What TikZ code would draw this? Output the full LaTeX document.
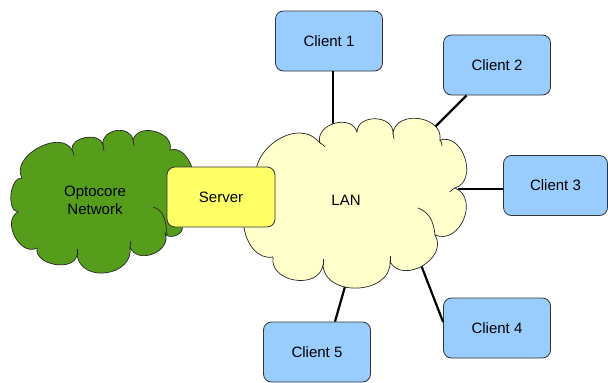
\documentclass[tikz,border=0pt]{standalone}
\usepackage{fontspec}
\setmainfont{Liberation Sans}
\definecolor{clientblue}{RGB}{153,204,255}
\definecolor{serveryellow}{RGB}{255,255,102}
\definecolor{lanfill}{RGB}{255,255,204}
\definecolor{optogreen}{RGB}{87,157,28}
\begin{document}
\begin{tikzpicture}[x=1pt,y=-1pt,
  box/.style={draw=black!80, line width=0.8pt, rounded corners=8pt,
    minimum width=107pt, minimum height=60pt, inner sep=0pt,
    font=\fontsize{15}{18}\selectfont},
  client/.style={box, fill=clientblue},
  link/.style={line width=2.2pt, black},
  puff/.style={bend left=90, looseness=#1},
  puff/.default=1.3,
  cloudline/.style={draw=black!85, line width=0.7pt},
  tick/.style={draw=black!85, line width=0.7pt},
  cloudtext/.style={font=\fontsize{15}{18}\selectfont, align=center, inner sep=0pt}]
\useasboundingbox (0,0) rectangle (608,383);

% nodes
\node[client] (c1) at (329,41) {Client 1};
\node[client] (c2) at (497,65) {Client 2};
\node[client, minimum width=104pt] (c3) at (555.5,185.5) {Client 3};
\node[client] (c4) at (497,328) {Client 4};
\node[client] (c5) at (317,352) {Client 5};

% connector ends on the LAN cloud
\coordinate (l1) at (333,132);
\coordinate (l2) at (428,134);
\coordinate (l3) at (458,189);
\coordinate (l4) at (416,252);
\coordinate (l5) at (348,276);

\draw[link] (c1.south -| l1) -- (l1);
\draw[link] (c2) -- (l2);
\draw[link] (c3.west |- l3) -- (l3);
\draw[link] ([yshift=6pt]c4.west) -- (l4);
\draw[link] ([xshift=18pt]c5.north) -- (l5);

% Optocore cloud
\path[cloudline, fill=optogreen]
  (22,178) to[puff=1.1] (72,150) to[puff=1.1] (103,145) to[puff=1.35] (133,140)
  to[puff=1.25] (170,150) to[puff=1.1] (185,195) to[puff=1.1] (182,226)
  to[puff=1.2] (165,233) to[puff=1.35] (130,247) to[puff=1.4] (77,255)
  to[puff=1.1] (37,248) to[puff=1.2] (18,212) to[puff=0.9] (22,178) -- cycle;
\draw[cloudline] (153,207) to[out=-15, in=95] (167,235);
\draw[tick] (72,150) to[bend left=15] (74,156);
\draw[tick] (103,145) to[bend left=15] (104,151);
\draw[tick] (133,140) to[bend left=15] (134,146);
\draw[tick] (130,247) to[bend right=15] (131,241);
\draw[tick] (77,255) to[bend right=15] (77,249);
\node[cloudtext] (opto) at (95,200) {Optocore\\Network};

% LAN cloud
\path[cloudline, fill=lanfill]
  (262,190) to[puff=1.35] (320,143) to[puff] (357,132) to[puff] (393,133)
  to[puff] (440,140) to[puff=1.25] (455,188) to[puff=1.35] (435,235)
  to[puff] (390,262) to[puff=1.25] (323,265) to[puff] (273,257)
  to[puff=1.2] (262,190) -- cycle;
\draw[cloudline] (418,208) to[out=-20, in=95] (435,235);
\draw[tick] (320,143) to[bend left=15] (325,147);
\draw[tick] (393,133) to[bend left=15] (394,139);
\draw[tick] (440,140) to[bend left=15] (442,146);
\draw[tick] (455,188) to[bend right=15] (450,192);
\draw[tick] (390,262) to[bend right=15] (390,256);
\draw[tick] (323,265) to[bend right=15] (323,259);
\node[cloudtext] (lan) at (346,200) {LAN};

% Server on top
\node[box, fill=serveryellow, minimum width=108pt] (srv) at (221,197) {Server};
\end{tikzpicture}
\end{document}
